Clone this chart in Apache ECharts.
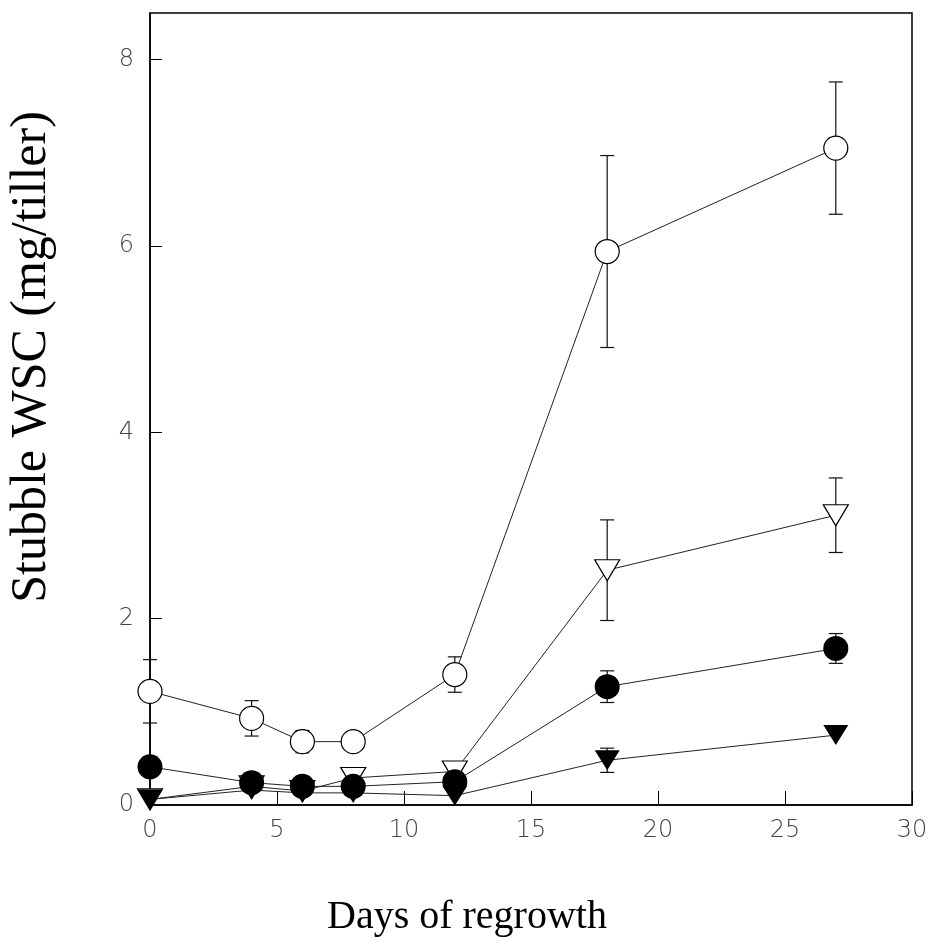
<!DOCTYPE html>
<html>
<head>
<meta charset="utf-8">
<script src="https://cdn.jsdelivr.net/npm/echarts@6/dist/echarts.min.js"></script>
<style>
  html, body { margin: 0; padding: 0; background: #fff; }
  #chart { width: 938px; height: 948px; }
</style>
</head>
<body>
<div id="chart"></div>
<script>
// days of regrowth (x)
var days = [0, 4, 6, 8, 12, 18, 27];
var xTicks = [0, 5, 10, 15, 20, 25, 30];
var yTicks = [0, 2, 4, 6, 8];

// stubble WSC, mg/tiller
var openCircle      = [1.22, 0.93, 0.68, 0.68, 1.40, 5.94, 7.05];
var openCircleErr   = [0.34, 0.19, 0.12, 0,    0.19, 1.03, 0.71];
var openTri         = [0.06, 0.20, 0.15, 0.29, 0.36, 2.52, 3.11];
var openTriErr      = [0,    0,    0,    0.05, 0.07, 0.54, 0.40];
var filledCircle    = [0.41, 0.24, 0.20, 0.20, 0.25, 1.27, 1.68];
var filledCircleErr = [0,    0,    0,    0,    0,    0.17, 0.16];
var filledTri       = [0.06, 0.16, 0.13, 0.13, 0.10, 0.48, 0.75];
var filledTriErr    = [0,    0,    0,    0,    0,    0.13, 0];

function pairs(vals) {
    return days.map(function (d, i) { return [d, vals[i]]; });
}
function bars(vals, errs) {
    var out = [];
    days.forEach(function (d, i) {
        if (errs[i] > 0) out.push([d, vals[i] - errs[i], vals[i] + errs[i]]);
    });
    return out;
}

// error bars with caps
function errorSeries(vals, errs, z) {
    return {
        type: 'custom',
        z: z,
        silent: true,
        data: bars(vals, errs),
        renderItem: function (params, api) {
            var lo = api.coord([api.value(0), api.value(1)]);
            var hi = api.coord([api.value(0), api.value(2)]);
            var w = 7;
            var st = { stroke: '#111', lineWidth: 1.2 };
            return {
                type: 'group',
                children: [
                    { type: 'line', shape: { x1: lo[0], y1: lo[1], x2: hi[0], y2: hi[1] }, style: st },
                    { type: 'line', shape: { x1: lo[0] - w, y1: lo[1], x2: lo[0] + w, y2: lo[1] }, style: st },
                    { type: 'line', shape: { x1: hi[0] - w, y1: hi[1], x2: hi[0] + w, y2: hi[1] }, style: st }
                ]
            };
        }
    };
}

function lineSeries(name, vals, symbol, size, filled, z, rotate) {
    return {
        name: name,
        type: 'line',
        z: z,
        data: pairs(vals),
        symbol: symbol,
        symbolSize: size,
        symbolRotate: rotate || 0,
        showAllSymbol: true,
        lineStyle: { color: '#222', width: 1 },
        itemStyle: {
            color: filled ? '#000' : '#fff',
            borderColor: '#000',
            borderWidth: filled ? 0 : 1.2
        },
        emphasis: { disabled: true }
    };
}

var myChart = echarts.init(document.getElementById('chart'));
var option = {
    animation: false,
    backgroundColor: '#fff',
    grid: {
        left: 150, right: 26, top: 13, bottom: 143,
        outerBoundsMode: 'none',
        containLabel: false,
        show: true, borderColor: '#000', borderWidth: 1.5
    },
    graphic: [
        {
            type: 'text', left: 327, top: 897,
            style: { text: 'Days of regrowth', font: '40px "Liberation Serif"', fill: '#000' }
        },
        {
            type: 'text', x: 32, y: 357, rotation: Math.PI / 2,
            style: {
                text: 'Stubble WSC (mg/tiller)', font: '50px "Liberation Serif"', fill: '#000',
                align: 'center', verticalAlign: 'middle'
            }
        }
    ],
    xAxis: {
        type: 'value',
        min: 0, max: 30, interval: 5,
        axisLine: { lineStyle: { color: '#000', width: 1.5 } },
        axisTick: { inside: true, length: 14, lineStyle: { color: '#000' } },
        axisLabel: {
            margin: 14, fontSize: 24, color: '#444', fontFamily: 'DejaVu Sans', fontWeight: 200,
            customValues: xTicks
        },
        splitLine: { show: false }
    },
    yAxis: {
        type: 'value',
        min: 0, max: 8.5, interval: 2,
        axisLine: { lineStyle: { color: '#000', width: 1.5 } },
        axisTick: { inside: true, length: 12, lineStyle: { color: '#000' }, customValues: yTicks },
        axisLabel: {
            margin: 16, fontSize: 24, color: '#444', fontFamily: 'DejaVu Sans', fontWeight: 200,
            customValues: yTicks
        },
        splitLine: { show: false }
    },
    series: [
        errorSeries(openTri, openTriErr, 1),
        errorSeries(filledTri, filledTriErr, 1),
        errorSeries(filledCircle, filledCircleErr, 1),
        errorSeries(openCircle, openCircleErr, 1),
        lineSeries('open triangle', openTri, 'triangle', [25, 21], false, 2, 180),
        lineSeries('filled triangle', filledTri, 'triangle', [25, 20], true, 3, 180),
        lineSeries('filled circle', filledCircle, 'circle', 25, true, 4),
        lineSeries('open circle', openCircle, 'circle', 24, false, 5)
    ]
};
myChart.setOption(option);
</script>
</body>
</html>
